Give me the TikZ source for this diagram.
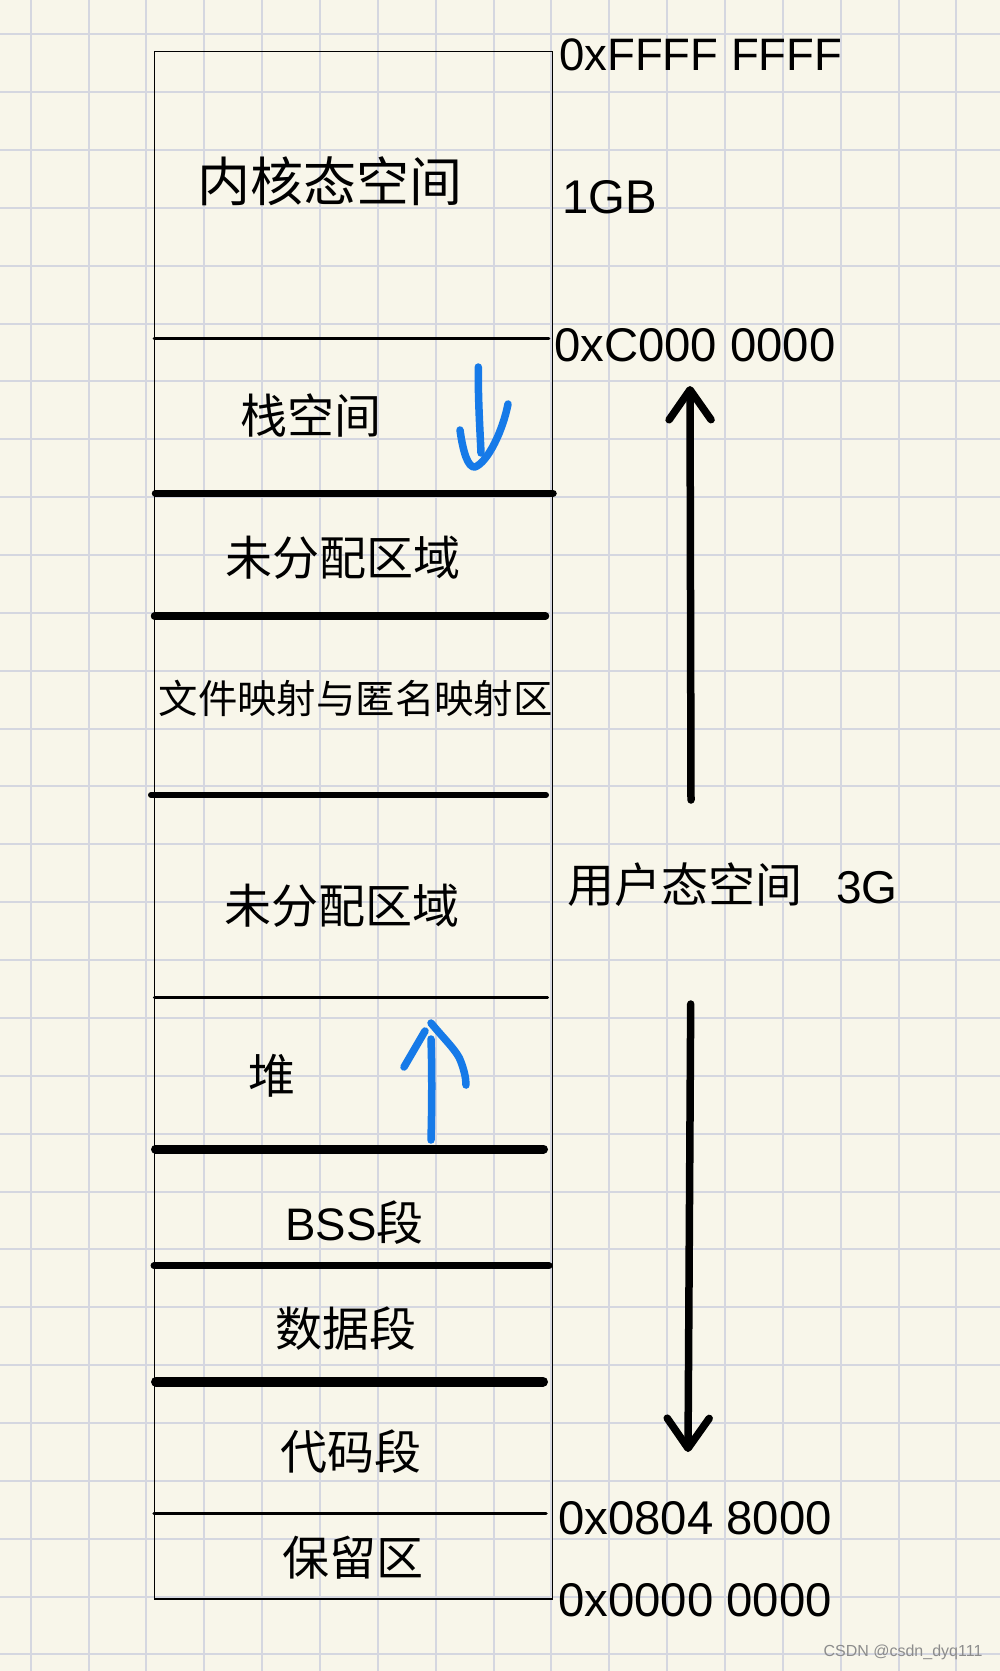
\documentclass[tikz,border=0pt]{standalone}
\usepackage{fontspec}
\setmainfont{Liberation Sans}
\newfontfamily\cjk{Noto Sans CJK SC}
\usetikzlibrary{arrows.meta}
\definecolor{paper}{RGB}{248,246,234}
\definecolor{gridline}{RGB}{213,215,224}
\definecolor{pen}{RGB}{22,122,232}
\newcommand{\notepaper}{
    % cream paper with light grid
    \fill[paper] (0,0) rectangle (1000,1671);
    \foreach \i in {0,...,16}
        \draw[gridline, line width=2pt] ({30.7+57.86*\i},0) -- ({30.7+57.86*\i},1671);
    \foreach \j in {0,...,28}
        \draw[gridline, line width=2pt] (0,{34.3+57.86*\j}) -- (1000,{34.3+57.86*\j});
}
\newcommand{\divider}[4]{
    % #1: y
    % #2: line width
    % #3: left x
    % #4: right x
    \draw[line width=#2, line cap=round] (#3,#1) -- (#4,#1);
}

\begin{document}
\begin{tikzpicture}[x=1pt, y=-1pt]
    % CJK region names
    \tikzstyle{region}=[inner sep=0, font=\cjk\fontsize{47}{50}\selectfont]
    % addresses and sizes on the right
    \tikzstyle{addr}=[inner sep=0, anchor=base west, font=\fontsize{47.3}{50}\selectfont]
    % hand drawn blue arrows
    \tikzstyle{hand}=[pen, line width=7.5pt, line cap=round, line join=round]
    \tikzstyle{bigarrow}=[line width=7.5pt, line cap=round, -{Straight Barb[length=30pt, width=42pt, round]}]
    \useasboundingbox (0,0) rectangle (1000,1671);
    \notepaper
    % the address space column
    \draw[line width=1.3pt] (154.3,51.7) rectangle (552.3,1599);
    \divider{338.3}{2.8pt}{154}{549}
    \divider{493.3}{7.5pt}{155.5}{553}
    \divider{616}{7.5pt}{154.5}{545.5}
    \divider{795}{6pt}{151}{546}
    \divider{997.7}{3.2pt}{154.5}{547.5}
    \divider{1149}{9pt}{155.5}{543.5}
    \divider{1265.7}{7pt}{154}{549}
    \divider{1381.7}{10pt}{156}{543}
    \divider{1513.3}{3.5pt}{154}{546}
    % region names
    \node[region, font=\cjk\fontsize{53}{56}\selectfont] (kernel) at (330,181) {内核态空间};
    \node[region] (stack) at (311,415) {栈空间};
    \node[region] (free1) at (342.5,558) {未分配区域};
    \node[region, font=\cjk\fontsize{39.4}{42}\selectfont] (mmap) at (355.7,698.5) {文件映射与匿名映射区};
    \node[region] (free2) at (342,906) {未分配区域};
    \node[region] (heap) at (272,1076) {堆};
    \node[region] (bss) at (354.5,1223) {{\rmfamily\fontsize{45.6}{50}\selectfont BSS}段};
    \node[region] (data) at (346,1329) {数据段};
    \node[region] (code) at (351,1451.5) {代码段};
    \node[region] (reserved) at (352.5,1558) {保留区};
    % addresses and sizes
    \node[addr, font=\fontsize{45.5}{50}\selectfont] (top) at (559,70) {0xFFFF FFFF};
    \node[addr] (kersize) at (562,213) {1GB};
    \node[addr] (kbase) at (554,361) {0xC000 0000};
    \node[region] (user) at (685,885) {用户态空间};
    \node[addr, font=\fontsize{46}{48}\selectfont] (usersize) at (836,903) {3G};
    \node[addr] (tbase) at (558,1534) {0x0804 8000};
    \node[addr] (zero) at (558,1616) {0x0000 0000};
    % user space extent
    \coordinate (upfrom) at (691,800);
    \coordinate (upto) at (690,386);
    \coordinate (downfrom) at (690.7,1004);
    \coordinate (downto) at (688,1452);
    \draw[bigarrow] (upfrom) -- (upto);
    \draw[bigarrow] (downfrom) -- (downto);
    % stack grows down
    \draw[hand] (478.3,367) .. controls (478,400) and (480,430) .. (481,453);
    \draw[hand] (460,430) .. controls (463,452) and (468,468) .. (475,467)
        .. controls (488,462) and (503,430) .. (508,404);
    % heap grows up
    \draw[hand] (431,1140) .. controls (432,1100) and (432,1070) .. (431,1039);
    \draw[hand] (404,1067) -- (425,1031);
    \draw[hand] (431,1023) .. controls (445,1040) and (458,1052) .. (461,1062) .. controls (464,1070) and (466,1078) .. (466,1085);
    % watermark
    \node[inner sep=0, text=black!45, font=\fontsize{16}{18}\selectfont] (mark) at (903,1652) {CSDN @csdn\_dyq111};
\end{tikzpicture}
\end{document}
